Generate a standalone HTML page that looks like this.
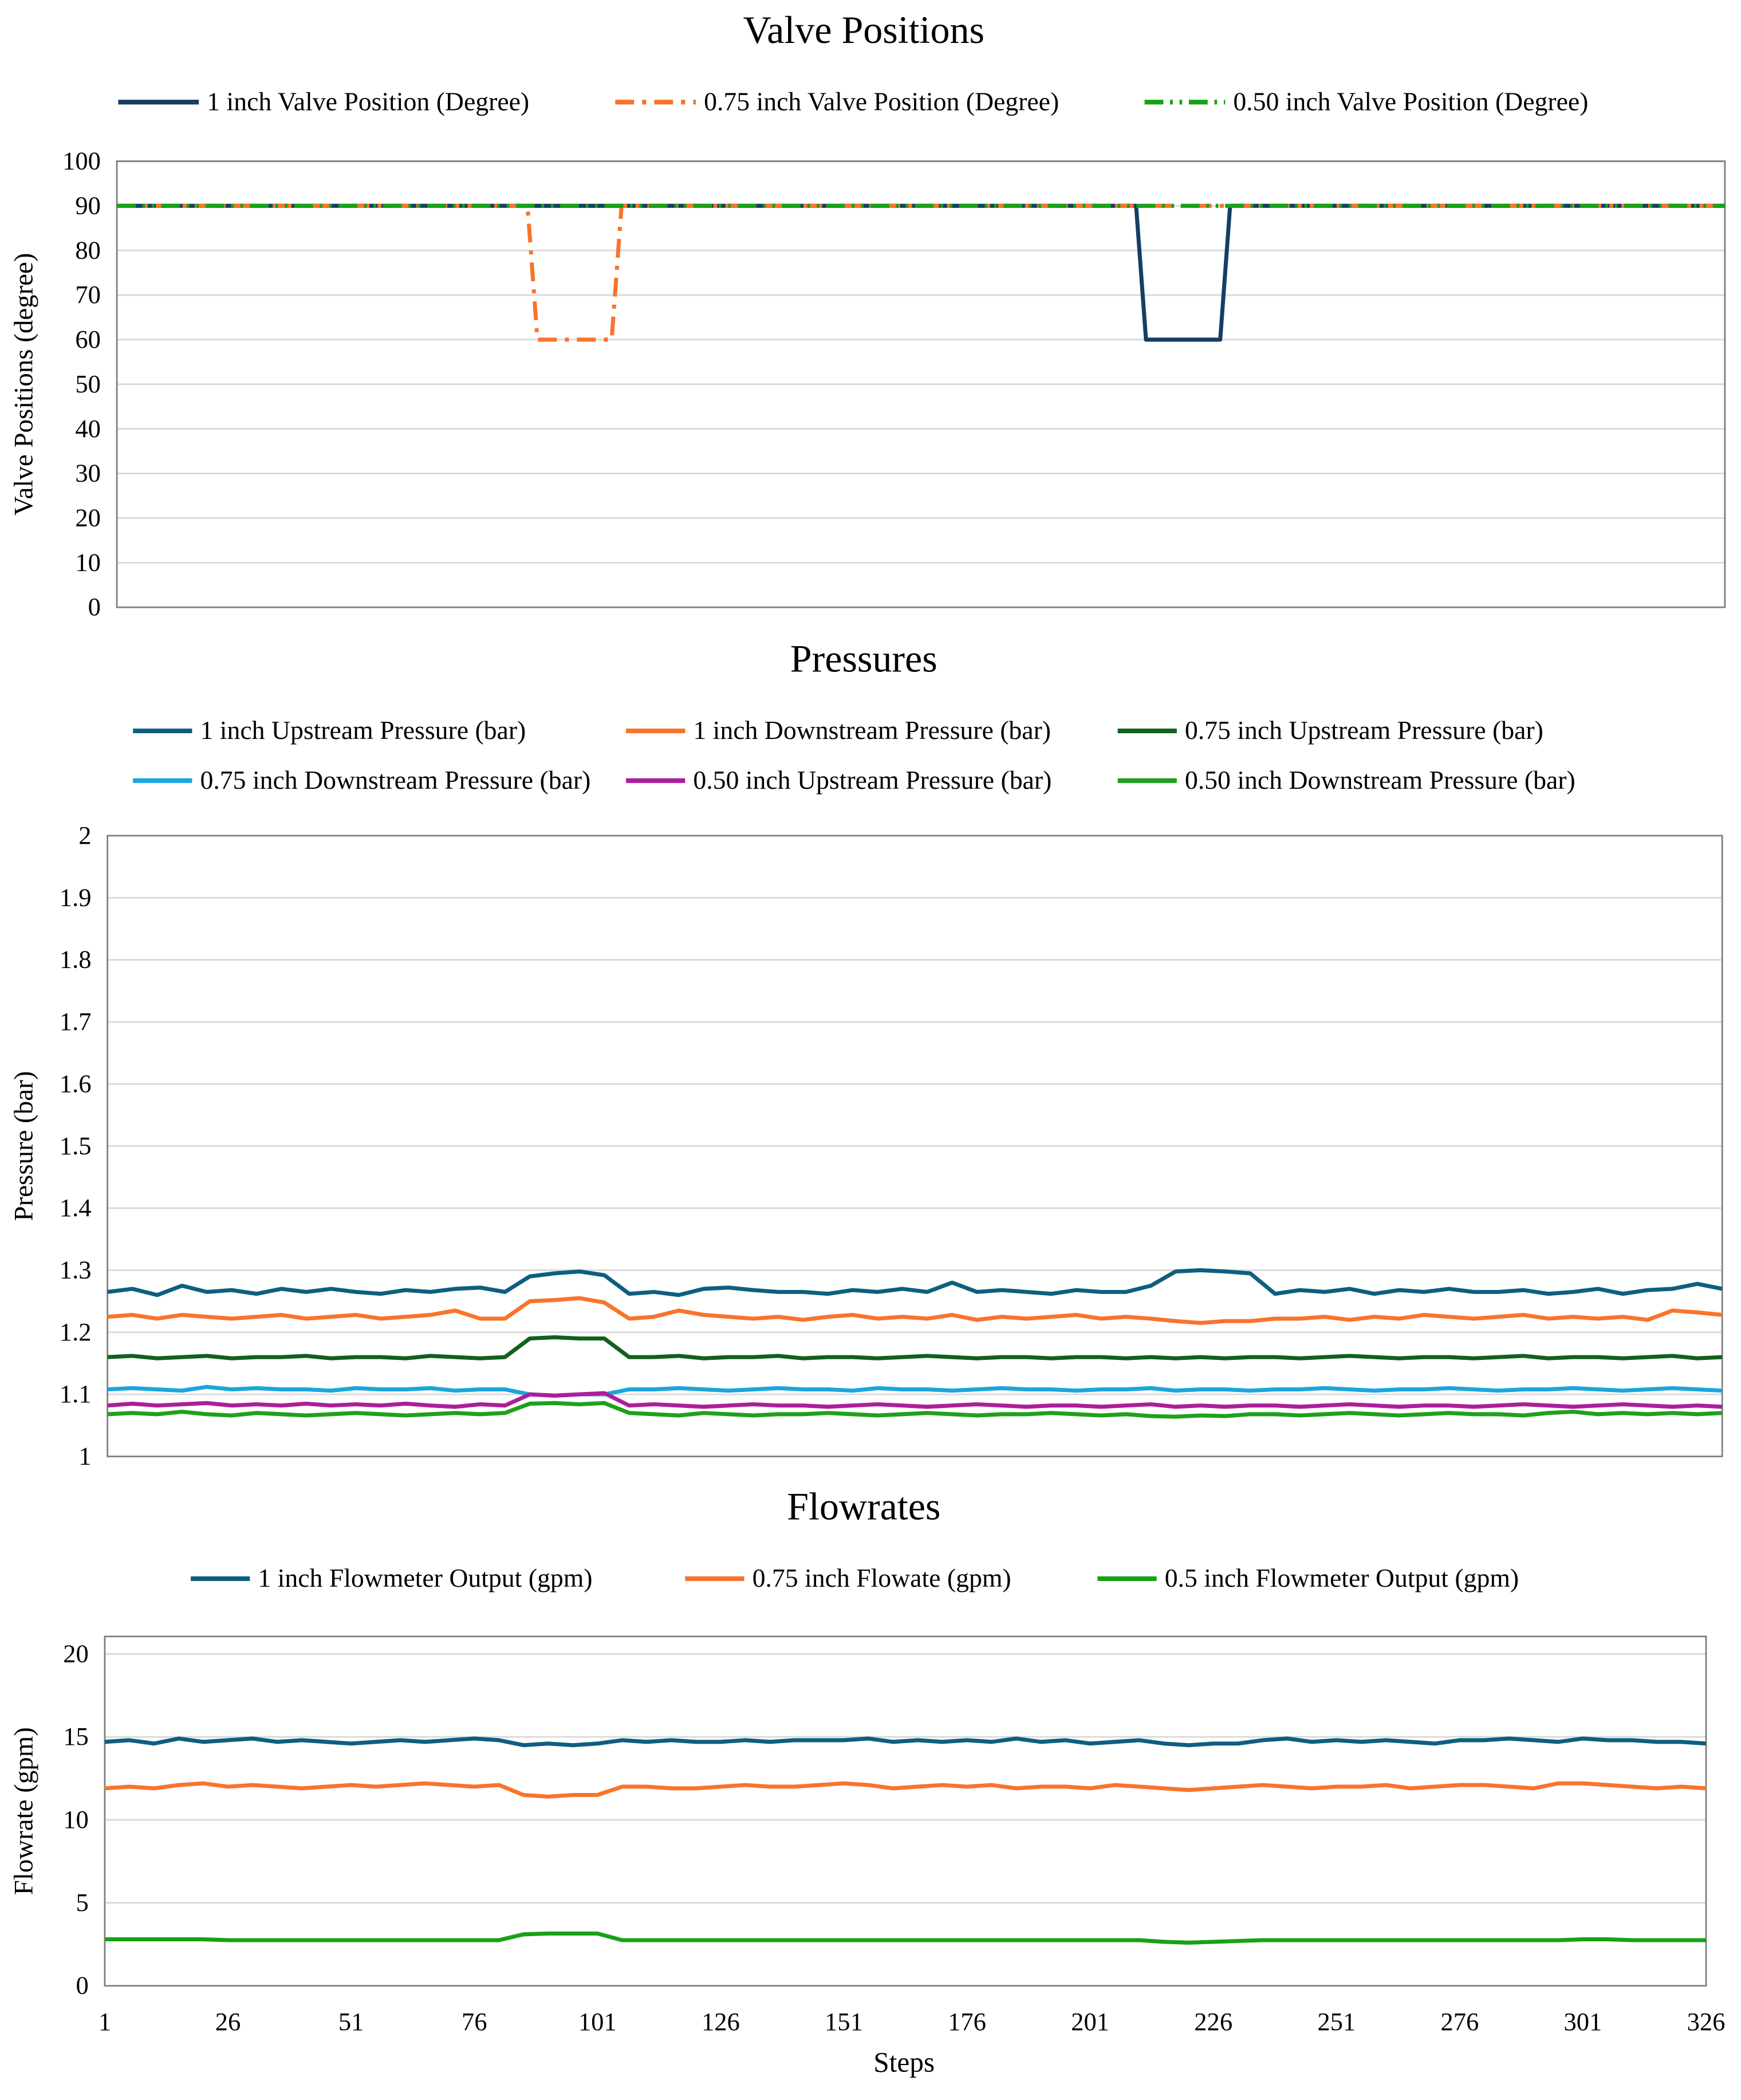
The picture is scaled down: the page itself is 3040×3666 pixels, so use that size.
<!DOCTYPE html>
<html><head><meta charset="utf-8"><style>
html,body{margin:0;padding:0;background:#fff}
svg{display:block}
text{font-family:"Liberation Serif",serif;fill:#000}
</style></head><body>
<svg id="chart" width="3040" height="3666" viewBox="0 0 1296 1563" preserveAspectRatio="none" xmlns="http://www.w3.org/2000/svg"></svg>
<script>
// ---- data (sampled every 5 steps: 1,6,...,326) ----
const steps = [];
for (let k = 0; k < 66; k++) steps.push(1 + 5 * k);
const xTickLabels = [1,26,51,76,101,126,151,176,201,226,251,276,301,326];

const valveSteps = [1,84,86,101,103,207,209,224,226,326];
const valve1 = [90,90,90,90,90,90,60,60,90,90];
const valve075 = [90,90,60,60,90,90,90,90,90,90];
const valve050 = [90,90,90,90,90,90,90,90,90,90];

const p1Up = [1.265,1.27,1.26,1.275,1.265,1.268,1.262,1.27,1.265,1.27,1.265,1.262,1.268,1.265,1.27,1.272,1.265,1.29,1.295,1.298,1.292,1.262,1.265,1.26,1.27,1.272,1.268,1.265,1.265,1.262,1.268,1.265,1.27,1.265,1.28,1.265,1.268,1.265,1.262,1.268,1.265,1.265,1.275,1.298,1.3,1.298,1.295,1.262,1.268,1.265,1.27,1.262,1.268,1.265,1.27,1.265,1.265,1.268,1.262,1.265,1.27,1.262,1.268,1.27,1.278,1.27];
const p1Down = [1.225,1.228,1.222,1.228,1.225,1.222,1.225,1.228,1.222,1.225,1.228,1.222,1.225,1.228,1.235,1.222,1.222,1.25,1.252,1.255,1.248,1.222,1.225,1.235,1.228,1.225,1.222,1.225,1.22,1.225,1.228,1.222,1.225,1.222,1.228,1.22,1.225,1.222,1.225,1.228,1.222,1.225,1.222,1.218,1.215,1.218,1.218,1.222,1.222,1.225,1.22,1.225,1.222,1.228,1.225,1.222,1.225,1.228,1.222,1.225,1.222,1.225,1.22,1.235,1.232,1.228];
const p075Up = [1.16,1.162,1.158,1.16,1.162,1.158,1.16,1.16,1.162,1.158,1.16,1.16,1.158,1.162,1.16,1.158,1.16,1.19,1.192,1.19,1.19,1.16,1.16,1.162,1.158,1.16,1.16,1.162,1.158,1.16,1.16,1.158,1.16,1.162,1.16,1.158,1.16,1.16,1.158,1.16,1.16,1.158,1.16,1.158,1.16,1.158,1.16,1.16,1.158,1.16,1.162,1.16,1.158,1.16,1.16,1.158,1.16,1.162,1.158,1.16,1.16,1.158,1.16,1.162,1.158,1.16];
const p075Down = [1.108,1.11,1.108,1.106,1.112,1.108,1.11,1.108,1.108,1.106,1.11,1.108,1.108,1.11,1.106,1.108,1.108,1.1,1.098,1.1,1.1,1.108,1.108,1.11,1.108,1.106,1.108,1.11,1.108,1.108,1.106,1.11,1.108,1.108,1.106,1.108,1.11,1.108,1.108,1.106,1.108,1.108,1.11,1.106,1.108,1.108,1.106,1.108,1.108,1.11,1.108,1.106,1.108,1.108,1.11,1.108,1.106,1.108,1.108,1.11,1.108,1.106,1.108,1.11,1.108,1.106];
const p050Up = [1.082,1.085,1.082,1.084,1.086,1.082,1.084,1.082,1.085,1.082,1.084,1.082,1.085,1.082,1.08,1.084,1.082,1.1,1.098,1.1,1.102,1.082,1.084,1.082,1.08,1.082,1.084,1.082,1.082,1.08,1.082,1.084,1.082,1.08,1.082,1.084,1.082,1.08,1.082,1.082,1.08,1.082,1.084,1.08,1.082,1.08,1.082,1.082,1.08,1.082,1.084,1.082,1.08,1.082,1.082,1.08,1.082,1.084,1.082,1.08,1.082,1.084,1.082,1.08,1.082,1.08];
const p050Down = [1.068,1.07,1.068,1.072,1.068,1.066,1.07,1.068,1.066,1.068,1.07,1.068,1.066,1.068,1.07,1.068,1.07,1.085,1.086,1.084,1.086,1.07,1.068,1.066,1.07,1.068,1.066,1.068,1.068,1.07,1.068,1.066,1.068,1.07,1.068,1.066,1.068,1.068,1.07,1.068,1.066,1.068,1.065,1.064,1.066,1.065,1.068,1.068,1.066,1.068,1.07,1.068,1.066,1.068,1.07,1.068,1.068,1.066,1.07,1.072,1.068,1.07,1.068,1.07,1.068,1.07];

const f1 = [14.7,14.8,14.6,14.9,14.7,14.8,14.9,14.7,14.8,14.7,14.6,14.7,14.8,14.7,14.8,14.9,14.8,14.5,14.6,14.5,14.6,14.8,14.7,14.8,14.7,14.7,14.8,14.7,14.8,14.8,14.8,14.9,14.7,14.8,14.7,14.8,14.7,14.9,14.7,14.8,14.6,14.7,14.8,14.6,14.5,14.6,14.6,14.8,14.9,14.7,14.8,14.7,14.8,14.7,14.6,14.8,14.8,14.9,14.8,14.7,14.9,14.8,14.8,14.7,14.7,14.6];
const f075 = [11.9,12.0,11.9,12.1,12.2,12.0,12.1,12.0,11.9,12.0,12.1,12.0,12.1,12.2,12.1,12.0,12.1,11.5,11.4,11.5,11.5,12.0,12.0,11.9,11.9,12.0,12.1,12.0,12.0,12.1,12.2,12.1,11.9,12.0,12.1,12.0,12.1,11.9,12.0,12.0,11.9,12.1,12.0,11.9,11.8,11.9,12.0,12.1,12.0,11.9,12.0,12.0,12.1,11.9,12.0,12.1,12.1,12.0,11.9,12.2,12.2,12.1,12.0,11.9,12.0,11.9];
const f050 = [2.8,2.8,2.8,2.8,2.8,2.75,2.75,2.75,2.75,2.75,2.75,2.75,2.75,2.75,2.75,2.75,2.75,3.1,3.15,3.15,3.15,2.75,2.75,2.75,2.75,2.75,2.75,2.75,2.75,2.75,2.75,2.75,2.75,2.75,2.75,2.75,2.75,2.75,2.75,2.75,2.75,2.75,2.75,2.65,2.6,2.65,2.7,2.75,2.75,2.75,2.75,2.75,2.75,2.75,2.75,2.75,2.75,2.75,2.75,2.75,2.8,2.8,2.75,2.75,2.75,2.75];

const valveTicks = [0,10,20,30,40,50,60,70,80,90,100];
const pressureTicks = [1,1.1,1.2,1.3,1.4,1.5,1.6,1.7,1.8,1.9,2];
const flowTicks = [0,5,10,15,20];

// ---- rendering ----
const NS = "http://www.w3.org/2000/svg";
const svg = document.getElementById('chart');
function mk(tag, attrs, parent, txt) {
  const e = document.createElementNS(NS, tag);
  for (const k in attrs) e.setAttribute(k, attrs[k]);
  if (txt !== undefined) e.textContent = txt;
  (parent || svg).appendChild(e);
  return e;
}
function scale(d0, d1, r0, r1) { return v => r0 + (v - d0) / (d1 - d0) * (r1 - r0); }

function panel(cfg) {
  const g = mk('g', {});
  
  
  const x = scale(1, 326, cfg.x0, cfg.x1);
  const y = scale(cfg.ymin, cfg.ymax, cfg.yb, cfg.yt);
  const t = mk('text', {x: 643, y: cfg.titleY, 'text-anchor': 'middle', 'font-size': 29}, g, cfg.title);
  
  
  cfg.ticks.forEach(v => {
    if (v !== cfg.ymin) {
      const l = mk('line', {x1: cfg.bx0, x2: cfg.bx1, y1: y(v), y2: y(v), stroke: '#d9d9d9', 'stroke-width': 1.2}, g);
      
      
    }
    const tl = mk('text', {x: cfg.bx0 - 12, y: y(v) + 6, 'text-anchor': 'end', 'font-size': 19}, g, cfg.fmt ? cfg.fmt(v) : String(v));
    
    
  });
  const box = mk('rect', {x: cfg.bx0, y: cfg.by0, width: cfg.bx1 - cfg.bx0, height: cfg.yb - cfg.by0, fill: 'none', stroke: '#808080', 'stroke-width': 1.2}, g);
  
  
  const yt = mk('text', {x: 0, y: 0, 'text-anchor': 'middle', 'font-size': 20, transform: `translate(24,${(cfg.by0 + cfg.yb) / 2}) rotate(-90)`}, g, cfg.ytitle);
  
  
  cfg.series.forEach(s => {
    const xs = s.xs || steps;
    const pts = s.data.map((v, i) => x(xs[i]).toFixed(2) + ',' + y(v).toFixed(2)).join(' ');
    const p = mk('polyline', {points: pts, fill: 'none', stroke: s.color, 'stroke-width': 3, 'stroke-linejoin': 'round'}, g);
    if (s.dash) p.setAttribute('stroke-dasharray', s.dash);
    
    
  });
  cfg.series.forEach(s => {
    const lg = mk('g', {}, g);
    
    
    const l = mk('line', {x1: s.lx, x2: s.lx + s.lw, y1: s.ly, y2: s.ly, stroke: s.color, 'stroke-width': 3.5}, lg);
    if (s.dash) l.setAttribute('stroke-dasharray', s.dash);
    mk('text', {x: s.lx + s.lw + 6, y: s.ly + 6, 'font-size': 19.5}, lg, s.label);
  });
  if (cfg.xticks) {
    xTickLabels.forEach(v => {
      const tl = mk('text', {x: x(v), y: cfg.yb + 33, 'text-anchor': 'middle', 'font-size': 19}, g, String(v));
      
      
    });
    const xt = mk('text', {x: 673, y: 1542, 'text-anchor': 'middle', 'font-size': 21}, g, 'Steps');
    
    
  }
}

panel({name: 'valve-positions-chart', title: 'Valve Positions', titleY: 32, x0: 87, x1: 1284, bx0: 87, bx1: 1284, by0: 120,
  ymin: 0, ymax: 100, yb: 452, yt: 120, ticks: valveTicks, ytitle: 'Valve Positions (degree)',
  series: [
    {id: 'valve-1in', data: valve1, xs: valveSteps, color: '#153e64', label: '1 inch Valve Position (Degree)', lx: 88, lw: 60, ly: 76},
    {id: 'valve-075in', data: valve075, xs: valveSteps, color: '#f8742b', dash: '14 6 3 6', label: '0.75 inch Valve Position (Degree)', lx: 458, lw: 60, ly: 76},
    {id: 'valve-050in', data: valve050, xs: valveSteps, color: '#16a216', dash: '14 5 2 5 2 5', label: '0.50 inch Valve Position (Degree)', lx: 852, lw: 60, ly: 76}
  ]});

panel({name: 'pressures-chart', title: 'Pressures', titleY: 500, x0: 80, x1: 1282, bx0: 80, bx1: 1282, by0: 622,
  ymin: 1, ymax: 2, yb: 1084, yt: 622, ticks: pressureTicks, ytitle: 'Pressure (bar)', fmt: v => String(+v.toFixed(1)),
  series: [
    {id: 'p-1in-up', data: p1Up, color: '#0f5e80', label: '1 inch Upstream Pressure (bar)', lx: 99, lw: 44, ly: 544},
    {id: 'p-1in-down', data: p1Down, color: '#f8742b', label: '1 inch Downstream Pressure (bar)', lx: 466, lw: 44, ly: 544},
    {id: 'p-075in-up', data: p075Up, color: '#11611c', label: '0.75 inch Upstream Pressure (bar)', lx: 832, lw: 44, ly: 544},
    {id: 'p-075in-down', data: p075Down, color: '#1aa6dc', label: '0.75 inch Downstream Pressure (bar)', lx: 99, lw: 44, ly: 581},
    {id: 'p-050in-up', data: p050Up, color: '#ad1e9a', label: '0.50 inch Upstream Pressure (bar)', lx: 466, lw: 44, ly: 581},
    {id: 'p-050in-down', data: p050Down, color: '#20a01e', label: '0.50 inch Downstream Pressure (bar)', lx: 832, lw: 44, ly: 581}
  ]});

panel({name: 'flowrates-chart', title: 'Flowrates', titleY: 1131, x0: 78, x1: 1270, bx0: 78, bx1: 1270, by0: 1218,
  ymin: 0, ymax: 20, yb: 1478, yt: 1231, ticks: flowTicks, ytitle: 'Flowrate (gpm)', xticks: true,
  series: [
    {id: 'flow-1in', data: f1, color: '#0f5e80', label: '1 inch Flowmeter Output (gpm)', lx: 142, lw: 44, ly: 1175},
    {id: 'flow-075in', data: f075, color: '#f8742b', label: '0.75 inch Flowate (gpm)', lx: 510, lw: 44, ly: 1175},
    {id: 'flow-050in', data: f050, color: '#16a216', label: '0.5 inch Flowmeter Output (gpm)', lx: 817, lw: 44, ly: 1175}
  ]});
</script>
</body></html>
